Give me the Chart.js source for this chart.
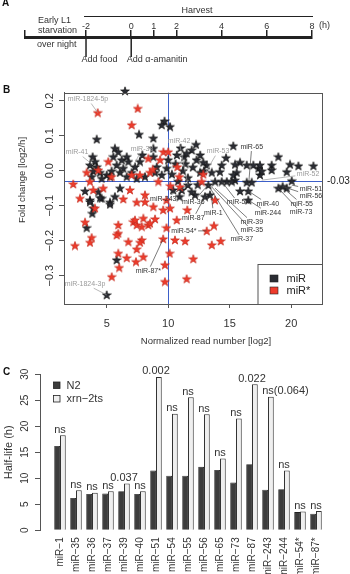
<!DOCTYPE html>
<html>
<head>
<meta charset="utf-8">
<script src="https://cdn.jsdelivr.net/npm/chart.js@4"></script>
<style>
  body { margin: 0; background: #fff; }
  #wrap { position: relative; width: 350px; height: 574px; overflow: hidden; }
  canvas { position: absolute; left: 0; }
</style>
</head>
<body>
<div id="wrap">
  <canvas id="timeline" width="350" height="78" style="top:0"></canvas>
  <canvas id="scatter" width="350" height="272" style="top:78px"></canvas>
  <canvas id="bars" width="350" height="219" style="top:355px"></canvas>
</div>
<script>
/* ================= DATA ================= */
// panel A: time line (h)
const timeTicks = [-2, 0, 1, 2, 4, 6, 8];
const timeStart = -4.7;
const eventTimes = [-2, 0];
const eventLabels = ["Add food", "Add \u03b1-amanitin"];

// panel B: miR (black) and miR* (red) - normalized reads [log2] vs fold change [log2/h]
const mirReads = [6.49,7.63,8.79,4.19,9.70,9.47,10.15,3.86,4.05,3.64,4.19,3.91,4.46,3.78,4.59,5.00,5.67,5.94,5.54,6.22,
  6.63,6.76,5.81,6.35,6.08,5.40,5.27,6.63,7.03,7.30,7.70,7.90,8.79,9.07,9.47,8.93,8.11,7.44,9.88,10.00,
  6.08,3.24,4.32,3.64,5.27,4.59,10.92,11.60,12.26,11.91,15.29,14.70,18.95,21.80,20.58,19.90,18.41,18.41,19.63,20.04,
  18.95,19.63,19.30,17.46,17.33,17.60,17.46,16.92,16.38,15.84,15.43,15.57,15.29,15.43,14.35,14.20,14.76,15.16,16.38,16.79,
  15.84,16.51,16.51,13.13,12.85,12.30,12.59,13.54,13.81,14.35,13.26,13.40,12.99,3.64,3.91,3.83,3.37,5.27,5.81,5.00,
  4.46,5.67,11.10,12.18,10.60,11.20,11.60,10.80,11.30,12.00,12.40,11.90,10.40,10.30,11.00,11.50,10.70,12.60,11.40,12.90,8.79];
const mirFold = [0.228,0.104,0.093,0.090,0.142,0.131,0.126,0.040,0.026,0.016,0.011,-0.001,-0.005,-0.017,-0.022,-0.012,0.064,0.054,0.040,0.031,
  0.040,0.026,0.016,0.007,-0.005,-0.001,-0.017,-0.017,-0.005,0.011,0.026,0.045,0.040,0.011,-0.012,-0.005,-0.017,-0.022,0.007,0.031,
  -0.050,-0.058,-0.060,-0.084,-0.090,-0.079,-0.074,-0.041,0.075,0.059,0.071,0.037,0.040,0.014,0.014,0.018,0.016,0.002,-0.003,-0.029,
  -0.050,-0.050,-0.045,-0.012,0.007,-0.001,0.016,0.016,0.016,0.024,0.018,-0.005,-0.012,-0.027,0.016,-0.003,-0.031,-0.031,-0.033,-0.033,
  -0.058,-0.058,-0.084,0.016,0.024,0.031,-0.005,-0.005,-0.031,-0.031,-0.041,-0.069,-0.074,-0.089,-0.107,-0.122,-0.163,-0.096,-0.255,-0.355,
  -0.077,-0.074,-0.055,-0.069,0.020,0.000,-0.020,-0.030,0.040,0.010,-0.040,-0.060,-0.055,-0.010,0.065,0.050,0.045,0.045,0.020,0.000,0.064];
const starReads = [7.52,4.27,7.03,2.28,3.37,3.64,4.32,5.13,2.83,3.91,4.72,5.40,7.03,7.70,6.89,8.11,7.44,8.38,9.34,9.61,
  8.52,9.20,10.17,10.74,10.90,9.86,12.85,12.72,13.80,2.42,3.24,3.78,3.64,4.05,5.94,5.94,5.81,6.76,7.85,7.71,
  7.44,6.63,7.98,7.38,5.94,6.02,5.41,7.16,7.44,7.30,7.98,7.85,8.38,8.93,8.52,9.59,9.86,10.69,10.55,11.37,
  10.12,9.73,9.73,11.50,12.04,13.13,13.72,13.54,14.27,9.59,10.15,11.55,8.11,8.79,6.35,8.74,10.00,10.96];
const starFold = [0.178,0.166,0.131,-0.038,-0.005,-0.031,0.002,0.026,-0.079,-0.055,-0.050,-0.017,-0.012,-0.012,-0.055,-0.069,-0.090,0.035,0.031,0.054,
  -0.005,-0.031,-0.043,0.011,-0.017,-0.084,-0.010,-0.031,-0.084,-0.214,-0.147,-0.191,-0.205,-0.107,-0.155,-0.179,-0.184,-0.203,-0.198,-0.205,
  -0.224,-0.249,-0.246,-0.260,-0.236,-0.277,-0.303,-0.146,-0.155,-0.141,-0.136,-0.160,-0.155,-0.138,-0.150,-0.195,-0.163,-0.141,-0.198,-0.201,
  -0.236,-0.269,-0.317,-0.309,-0.252,-0.172,-0.157,-0.212,-0.201,-0.112,-0.107,-0.112,-0.089,-0.103,-0.081,0.004,0.054,-0.046];
const readTicks = [5, 10, 15, 20];
const foldTicks = [-0.3, -0.2, -0.1, 0, 0.1, 0.2];
const readCut = 10;
const foldMedian = -0.03;

// panel C: half-life (h)
const mirNames = ["miR\u22121","miR\u221235","miR\u221236","miR\u221237","miR\u221239","miR\u221240","miR\u221251","miR\u221254","miR\u221255",
  "miR\u221256","miR\u221265","miR\u221273","miR\u221287","miR\u2212243","miR\u2212244","miR\u221254*","miR\u221287*"];
const halfLifeN2  = [16.2, 6.2, 7.0, 7.1, 7.5, 7.0, 11.5, 10.5, 10.5, 12.2, 11.6, 9.2, 12.7, 7.8, 7.9, 3.5, 3.2];
const halfLifeXrn = [18.3, 7.7, 7.2, 7.5, 9.0, 7.5, 29.5, 22.4, 25.6, 22.3, 13.8, 21.5, 28.1, 25.7, 11.5, 3.6, 3.7];
const pLabels = ["ns","ns","ns","ns","0.037","ns","0.002","ns","ns","ns","ns","ns","0.022","ns(0.064)","ns","ns","ns"];
const halfTicks = [0, 5, 10, 15, 20, 25, 30];

/* ================= SETUP ================= */
const FONT = "'Liberation Sans', Arial, Helvetica, sans-serif";
Chart.defaults.font.family = FONT;
Chart.defaults.color = "#333";

const noLegend = { legend: { display: false }, tooltip: { enabled: false } };

function letter(ctx, t, x, y) {
  ctx.save();
  ctx.font = `bold 10px ${FONT}`;
  ctx.fillStyle = "#111";
  ctx.textBaseline = "middle";
  ctx.fillText(t, x, y);
  ctx.restore();
}

/* ================= A : TIMELINE ================= */
const timelineExtras = {
  id: "timelineExtras",
  afterDraw(chart) {
    const ctx = chart.ctx, x = chart.scales.x, axisY = chart.chartArea.top;
    const hx0 = x.getPixelForValue(-2), hx1 = x.getPixelForValue(8);
    ctx.save();
    ctx.strokeStyle = "#222";
    ctx.fillStyle = "#333";
    ctx.font = `9px ${FONT}`;
    ctx.lineWidth = 1;
    ctx.beginPath(); ctx.moveTo(hx0 - 2, 16.5); ctx.lineTo(hx1 + 1, 16.5); ctx.stroke();
    ctx.textAlign = "center"; ctx.textBaseline = "middle";
    ctx.fillText("Harvest", (hx0 + hx1) / 2 - 2, 11);
    ctx.textAlign = "left";
    ctx.fillText("Early L1", 38, 21);
    ctx.fillText("starvation", 38, 31);
    ctx.fillText("over night", 37, 45);
    ctx.fillText("(h)", hx1 + 7, 25.5);
    ctx.lineWidth = 1.5;
    eventTimes.forEach((t, i) => {
      const px = x.getPixelForValue(t);
      ctx.beginPath(); ctx.moveTo(px, axisY); ctx.lineTo(px, 57); ctx.stroke();
      ctx.fillText(eventLabels[i], px - 4.5, 60);
    });
    ctx.restore();
    letter(ctx, "A", 2, 3);
  }
};

new Chart(document.getElementById("timeline"), {
  type: "scatter",
  data: { datasets: [] },
  options: {
    responsive: false,
    animation: false,
    layout: { padding: { left: 25, right: 38, top: 0, bottom: 0 } },
    plugins: noLegend,
    scales: {
      x: {
        type: "linear", position: "top", min: timeStart, max: 8,
        afterBuildTicks: s => { s.ticks = [timeStart, ...timeTicks].map(v => ({ value: v })); },
        afterFit: s => { s.height = 37; },
        ticks: { callback: v => v === timeStart ? "" : String(v), font: { size: 9 }, color: "#333",
                 padding: -2, autoSkip: false, maxRotation: 0 },
        grid: { drawOnChartArea: false, tickLength: 7, lineWidth: 1.5, color: "#222" },
        border: { display: true, width: 3, color: "#222" }
      },
      y: { display: false }
    }
  },
  plugins: [timelineExtras]
});

/* ================= B : SCATTER ================= */
function makeStar(fill, edge) {
  const c = document.createElement("canvas");
  c.width = 10; c.height = 10;
  const g = c.getContext("2d");
  g.beginPath();
  for (let k = 0; k < 10; k++) {
    const r = k % 2 ? 1.8 : 4.6;
    const a = -Math.PI / 2 + k * Math.PI / 5;
    const px = 5 + r * Math.cos(a), py = 5.4 + r * Math.sin(a);
    k ? g.lineTo(px, py) : g.moveTo(px, py);
  }
  g.closePath();
  g.fillStyle = fill; g.fill();
  g.lineWidth = 0.7; g.strokeStyle = edge; g.stroke();
  return c;
}
const RED = "#ee3b2b", DARK = "#2a2c33", BLUE = "#3d5fc9", GREY = "#9a9a9a";
const redStar = makeStar(RED, "#c62a1c");
const darkStar = makeStar(DARK, "#111");

// callouts: label centre and the star it points at (data units)
const callouts = [
  ["miR-1824-5p", 3.48, 0.205, 4.27, 0.166, true],
  ["miR-41", 2.59, 0.053, 3.91, 0.016, true],
  ["miR-38", 7.87, 0.062, 7.20, 0.016, true],
  ["miR-42", 10.88, 0.085, 11.60, -0.040, true],
  ["miR-53", 14.05, 0.056, 13.00, -0.007, true],
  ["miR-65", 16.79, 0.069, 16.55, -0.033, false],
  ["miR-52", 21.37, -0.010, 17.60, -0.027, true],
  ["miR-51", 21.60, -0.053, 20.04, -0.041, false],
  ["miR-56", 21.60, -0.072, 19.30, -0.045, false],
  ["miR-55", 20.85, -0.095, 19.63, -0.058, false],
  ["miR-73", 20.80, -0.119, 18.95, -0.050, false],
  ["miR-40", 18.10, -0.095, 16.51, -0.058, false],
  ["miR-244", 18.10, -0.120, 16.51, -0.084, false],
  ["miR-54", 15.68, -0.091, 14.35, -0.031, false],
  ["miR-39", 16.80, -0.147, 13.81, -0.050, false],
  ["miR-35", 16.80, -0.171, 13.50, -0.045, false],
  ["miR-37", 15.98, -0.196, 13.26, -0.041, false],
  ["miR-1", 13.67, -0.120, 13.50, -0.070, false],
  ["miR-87", 12.04, -0.136, 12.99, -0.074, false],
  ["miR-36", 12.04, -0.089, 13.00, -0.050, false],
  ["miR-243", 9.60, -0.081, 11.60, -0.041, false],
  ["miR-54*", 11.28, -0.172, 13.13, -0.172, false],
  ["miR-87*", 8.38, -0.287, 9.59, -0.195, false],
  ["miR-1824-3p", 3.24, -0.323, 5.00, -0.355, true]
];

const scatterExtras = {
  id: "scatterExtras",
  beforeDatasetsDraw(chart) {
    const { ctx, chartArea: a, scales: { x, y } } = chart;
    ctx.save();
    ctx.strokeStyle = BLUE; ctx.lineWidth = 1;
    const vx = Math.round(x.getPixelForValue(readCut)) + 0.5;
    const hy = Math.round(y.getPixelForValue(foldMedian)) + 0.5;
    ctx.beginPath();
    ctx.moveTo(vx, a.top); ctx.lineTo(vx, a.bottom);
    ctx.moveTo(a.left, hy); ctx.lineTo(a.right, hy);
    ctx.stroke();
    ctx.restore();
  },
  afterDraw(chart) {
    const { ctx, chartArea: a, scales: { x, y } } = chart;
    ctx.save();
    ctx.font = `7px ${FONT}`;
    ctx.textAlign = "center"; ctx.textBaseline = "middle";
    ctx.lineWidth = 0.7;
    callouts.forEach(([t, lx, ly, px, py, grey]) => {
      const cx = x.getPixelForValue(lx), cy = y.getPixelForValue(ly);
      const tx = x.getPixelForValue(px), ty = y.getPixelForValue(py);
      const hw = ctx.measureText(t).width / 2 + 1.5, hh = 4.5;
      const dx = tx - cx, dy = ty - cy;
      const s = Math.min(dx ? hw / Math.abs(dx) : 1e9, dy ? hh / Math.abs(dy) : 1e9);
      ctx.strokeStyle = grey ? GREY : "#444";
      ctx.beginPath(); ctx.moveTo(cx + dx * s, cy + dy * s); ctx.lineTo(tx, ty); ctx.stroke();
      ctx.fillStyle = grey ? GREY : "#333";
      ctx.fillText(t, cx, cy);
    });
    // plot box
    ctx.strokeStyle = "#555"; ctx.lineWidth = 1;
    ctx.strokeRect(Math.round(a.left) + 0.5, Math.round(a.top) + 0.5, Math.round(a.width), Math.round(a.height));
    // median label
    ctx.fillStyle = "#222";
    ctx.font = `10px ${FONT}`;
    ctx.textAlign = "left";
    ctx.fillText("-0.03", a.right + 5, y.getPixelForValue(foldMedian));
    // axis titles
    ctx.font = `9.5px ${FONT}`;
    ctx.fillStyle = "#333";
    ctx.textAlign = "center";
    ctx.fillText("Normalized read number [log2]", 206, 263);
    ctx.save();
    ctx.translate(22, 102); ctx.rotate(-Math.PI / 2);
    ctx.fillText("Fold change [log2/h]", 0, 0);
    ctx.restore();
    // legend
    const lx0 = 257.5, ly0 = 186;
    ctx.fillStyle = "#fff";
    ctx.fillRect(lx0, ly0, a.right - lx0, a.bottom - ly0);
    ctx.strokeStyle = "#555";
    ctx.strokeRect(lx0 + 0.5, ly0 + 0.5, Math.round(a.right) - lx0, Math.round(a.bottom) - ly0);
    [[DARK, "miR", 200.5], [RED, "miR*", 212.5]].forEach(([c, t, yy]) => {
      ctx.fillStyle = c; ctx.fillRect(270, yy - 3.5, 8, 7);
      ctx.strokeStyle = "#222"; ctx.lineWidth = 0.6; ctx.strokeRect(270, yy - 3.5, 8, 7);
      ctx.fillStyle = "#222"; ctx.font = `11px ${FONT}`; ctx.textAlign = "left";
      ctx.fillText(t, 286.5, yy);
    });
    ctx.restore();
    letter(ctx, "B", 3, 12.5);
  }
};

new Chart(document.getElementById("scatter"), {
  type: "scatter",
  data: {
    datasets: [
      { label: "miR*", data: starReads.map((v, i) => ({ x: v, y: starFold[i] })), pointStyle: redStar, pointRadius: 4, clip: false },
      { label: "miR", data: mirReads.map((v, i) => ({ x: v, y: mirFold[i] })), pointStyle: darkStar, pointRadius: 4, clip: false }
    ]
  },
  options: {
    responsive: false,
    animation: false,
    layout: { padding: { top: 14.7, right: 28, left: 0, bottom: 0 } },
    plugins: noLegend,
    scales: {
      x: {
        type: "linear", min: 1.53, max: 22.5,
        afterBuildTicks: s => { s.ticks = readTicks.map(v => ({ value: v })); },
        afterFit: s => { s.height = 46; },
        ticks: { font: { size: 11 }, color: "#333", padding: 9, maxRotation: 0 },
        grid: { drawOnChartArea: false, tickLength: 4, color: "#555" },
        border: { color: "#555" }
      },
      y: {
        type: "linear", min: -0.381, max: 0.223,
        afterBuildTicks: s => { s.ticks = foldTicks.map(v => ({ value: v })); },
        afterFit: s => { s.width = 64; },
        ticks: { font: { size: 11 }, color: "#333", minRotation: 90, maxRotation: 90, crossAlign: "center", padding: -2,
                 callback: v => (v < -1e-9 ? "\u2212" : "") + Math.abs(v).toFixed(1) },
        grid: { drawOnChartArea: false, tickLength: 5, color: "#555" },
        border: { color: "#555" }
      }
    }
  },
  plugins: [scatterExtras]
});

/* ================= C : HALF-LIFE BARS ================= */
const barExtras = {
  id: "barExtras",
  afterDraw(chart) {
    const { ctx, scales: { x, y } } = chart;
    ctx.save();
    ctx.font = `11px ${FONT}`;
    ctx.fillStyle = "#333";
    ctx.textAlign = "left"; ctx.textBaseline = "alphabetic";
    pLabels.forEach((t, i) => {
      const head = t.startsWith("ns") ? "ns" : t;
      const cx = x.getPixelForValue(i);
      const top = y.getPixelForValue(Math.max(halfLifeN2[i], halfLifeXrn[i]));
      ctx.fillText(t, cx - ctx.measureText(head).width / 2, top - 2.5);
    });
    // legend
    ctx.strokeStyle = "#222"; ctx.lineWidth = 0.8;
    ctx.fillStyle = "#3c3c3c"; ctx.fillRect(53.5, 27, 6.5, 6.5); ctx.strokeRect(53.5, 27, 6.5, 6.5);
    ctx.fillStyle = "#efefef"; ctx.fillRect(53.5, 40.5, 6.5, 6.5); ctx.strokeRect(53.5, 40.5, 6.5, 6.5);
    ctx.fillStyle = "#333"; ctx.textBaseline = "middle";
    ctx.fillText("N2", 66.5, 30.5);
    ctx.fillText("xrn\u22122ts", 66.5, 44);
    ctx.restore();
    letter(ctx, "C", 3, 17);
  }
};

new Chart(document.getElementById("bars"), {
  type: "bar",
  data: {
    datasets: [
      { label: "N2", data: halfLifeN2.map((v, i) => ({ x: i, y: v })),
        backgroundColor: "#3c3c3c", borderColor: "#222", borderWidth: 0.8 },
      { label: "xrn\u22122ts", data: halfLifeXrn.map((v, i) => ({ x: i, y: v })),
        backgroundColor: "#efefef", borderColor: "#333", borderWidth: 1 }
    ]
  },
  options: {
    responsive: false,
    animation: false,
    layout: { padding: { top: 19.3, right: 26, left: 0, bottom: 0 } },
    plugins: noLegend,
    datasets: { bar: { barPercentage: 1, categoryPercentage: 0.72 } },
    scales: {
      x: {
        type: "linear", min: -1.25, max: 16.5, offset: false,
        afterBuildTicks: s => { s.ticks = mirNames.map((_, i) => ({ value: i })); },
        afterFit: s => { s.height = 43.7; },
        ticks: { callback: v => mirNames[v], autoSkip: false, minRotation: 90, maxRotation: 90,
                 font: { size: 10 }, color: "#333", padding: 7 },
        grid: { display: false, drawTicks: false },
        border: { display: false }
      },
      y: {
        type: "linear", min: 0, max: 30,
        afterBuildTicks: s => { s.ticks = halfTicks.map(v => ({ value: v })); },
        afterFit: s => { s.width = 40; },
        ticks: { font: { size: 10 }, color: "#333", minRotation: 90, maxRotation: 90, crossAlign: "center", padding: 4 },
        grid: { drawOnChartArea: false, tickLength: 5, color: "#555" },
        border: { color: "#555" },
        title: { display: true, text: "Half-life (h)", font: { size: 11 }, color: "#333", padding: { top: 2, bottom: 0 } }
      }
    }
  },
  plugins: [barExtras]
});
</script>
</body>
</html>
